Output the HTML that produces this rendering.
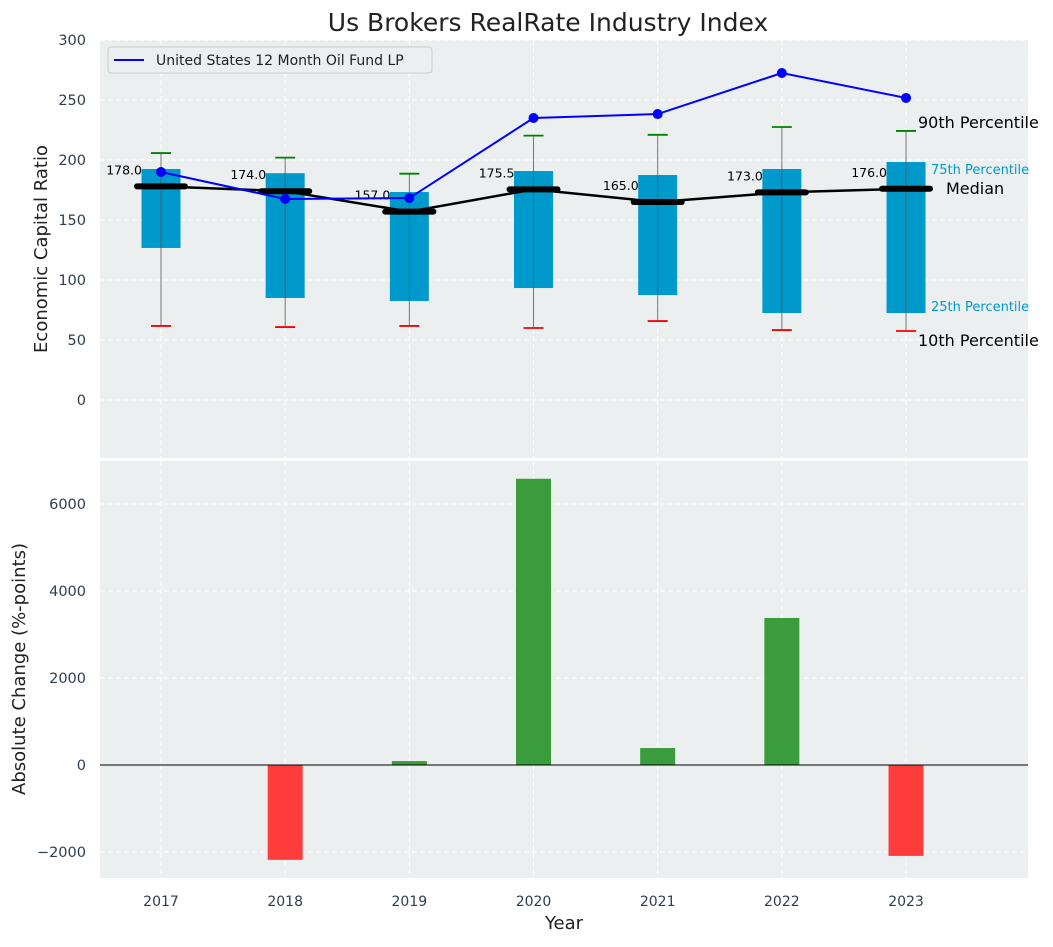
<!DOCTYPE html>
<html><head><meta charset="utf-8"><style>
body{margin:0;background:#fff;font-family:"Liberation Sans","DejaVu Sans",sans-serif}
svg text{font-family:"DejaVu Sans","Liberation Sans",sans-serif}
</style></head><body>
<svg id="c" width="1053" height="942" viewBox="0 0 1053 942" xmlns="http://www.w3.org/2000/svg"></svg>
<script>
const years=["2017","2018","2019","2020","2021","2022","2023"];
const p10=[61.7,60.8,61.7,60,65.8,58.3,57.5];
const p25=[126.7,85,82.5,93.3,87.5,72.5,72.5];
const median=[178,174,157,175.5,165,173,176];
const p75=[192.5,189,173.3,190.8,187.5,192.5,198.3];
const p90=[205.8,202,188.6,220.3,221,227.5,224.2];
const fund=[190,167.5,168.3,235,238.3,272.5,251.7];
const change=[0,-2180,90,6580,390,3380,-2090];
const topTicks=[0,50,100,150,200,250,300];
const botTicks=[-2000,0,2000,4000,6000];
const botTickLabels=["\u22122000","0","2000","4000","6000"];

const NS="http://www.w3.org/2000/svg";
const svg=document.getElementById('c');
function el(t,a,p){const e=document.createElementNS(NS,t);for(const k in a)e.setAttribute(k,a[k]);(p||svg).appendChild(e);return e;}
const L=100,R=1028;
const x=i=>161+i*124.17;
const yT=v=>400-v*1.2;
const yB=v=>765-v*0.0435;

let t=el('text',{x:548,y:31,'text-anchor':'middle','font-size':25,fill:'#222'});t.textContent='Us Brokers RealRate Industry Index';


let bg=el('rect',{x:L,y:40,width:R-L,height:418,fill:'#ebeff0'});

let bg2=el('rect',{x:L,y:461,width:R-L,height:417,fill:'#ebeff0'});


years.forEach((y,i)=>{
 el('line',{x1:x(i),x2:x(i),y1:40,y2:458,stroke:'#fff','stroke-dasharray':'5,3','stroke-width':1});
 el('line',{x1:x(i),x2:x(i),y1:461,y2:878,stroke:'#fff','stroke-dasharray':'5,3','stroke-width':1});
 let lb=el('text',{x:x(i),y:906,'text-anchor':'middle','font-size':14,fill:'#2c3e50'});lb.textContent=y;
 
});
topTicks.forEach(v=>{
 el('line',{x1:L,x2:R,y1:yT(v),y2:yT(v),stroke:'#fff','stroke-dasharray':'5,3'});
 let lb=el('text',{x:86,y:yT(v)+5,'text-anchor':'end','font-size':14.5,fill:'#2c3e50'});lb.textContent=v;
 
});
botTicks.forEach((v,i)=>{
 el('line',{x1:L,x2:R,y1:yB(v),y2:yB(v),stroke:'#fff','stroke-dasharray':'5,3'});
 let lb=el('text',{x:86,y:yB(v)+5,'text-anchor':'end','font-size':14.5,fill:'#2c3e50'});lb.textContent=botTickLabels[i];
 
});

years.forEach((y,i)=>{
 let b=el('rect',{x:x(i)-19.5,y:yT(p75[i]),width:39,height:yT(p25[i])-yT(p75[i]),fill:'#0099cc'});
 
 el('line',{x1:x(i),x2:x(i),y1:yT(Math.max(p90[i],p75[i])),y2:yT(p10[i]),stroke:'#555','stroke-width':1,'stroke-opacity':0.8});
 let g=el('line',{x1:x(i)-10,x2:x(i)+10,y1:yT(p90[i]),y2:yT(p90[i]),stroke:'green','stroke-width':1.8});
 
 let r=el('line',{x1:x(i)-10,x2:x(i)+10,y1:yT(p10[i]),y2:yT(p10[i]),stroke:'red','stroke-width':1.8});
 
});
let ml=el('polyline',{points:median.map((v,i)=>x(i)+','+yT(v)).join(' '),fill:'none',stroke:'#000','stroke-width':2.5});

years.forEach((y,i)=>{
 let m=el('line',{x1:x(i)-24,x2:x(i)+24,y1:yT(median[i]),y2:yT(median[i]),stroke:'#000','stroke-width':6,'stroke-linecap':'round'});
 
 let lb=el('text',{x:x(i)-19,y:yT(median[i])-12,'text-anchor':'end','font-size':12.5,fill:'#000'});lb.textContent=median[i].toFixed(1);
 
});
let fl=el('polyline',{points:fund.map((v,i)=>x(i)+','+yT(v)).join(' '),fill:'none',stroke:'#0000ff','stroke-width':2});

fund.forEach((v,i)=>{let c=el('circle',{cx:x(i),cy:yT(v),r:5,fill:'#0000ff'});
 });

const last=6;
[['90th Percentile',918,128,16,'#000'],['75th Percentile',931,174,13,'#0099cc'],['Median',946,194,16,'#000'],['25th Percentile',931,311,13,'#0099cc'],['10th Percentile',918,346,16,'#000']].forEach(a=>{
 let lb=el('text',{x:a[1],y:a[2],'font-size':a[3],fill:a[4]});lb.textContent=a[0];
 
});

let lg=el('g',{});
el('rect',{x:108,y:47,width:324,height:26,rx:3,fill:'#ebeff0',stroke:'#ccc'},lg);
el('line',{x1:114,x2:144,y1:60,y2:60,stroke:'#0000ff','stroke-width':2},lg);
let lt=el('text',{x:156,y:65,'font-size':14,fill:'#222'},lg);lt.textContent='United States 12 Month Oil Fund LP';

change.forEach((v,i)=>{
 const y0=yB(Math.max(v,0)),y1=yB(Math.min(v,0));
 let b=el('rect',{x:x(i)-17.5,y:y0,width:35,height:Math.max(y1-y0,0),fill:v>=0?'#3a9c3a':'#ff3c3c'});
 
});
el('line',{x1:L,x2:R,y1:yB(0),y2:yB(0),stroke:'#000','stroke-width':1});

let yt=el('text',{x:47,y:249,'text-anchor':'middle','font-size':18,fill:'#222',transform:'rotate(-90 47 249)'});yt.textContent='Economic Capital Ratio';

let yb=el('text',{x:25,y:669,'text-anchor':'middle','font-size':18,fill:'#222',transform:'rotate(-90 25 669)'});yb.textContent='Absolute Change (%-points)';

let xt=el('text',{x:564,y:929,'text-anchor':'middle','font-size':18,fill:'#222'});xt.textContent='Year';

</script>
</body></html>
